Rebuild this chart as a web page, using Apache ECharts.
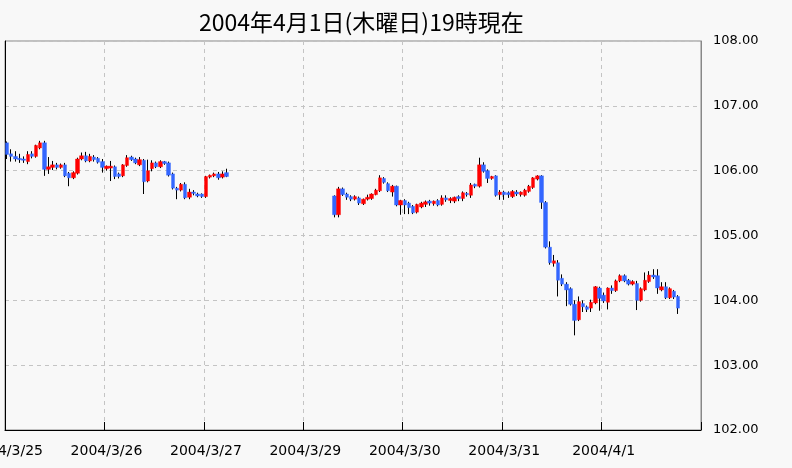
<!DOCTYPE html>
<html><head><meta charset="utf-8">
<script src="https://cdn.jsdelivr.net/npm/echarts@6/dist/echarts.min.js"></script>
<style>html,body{margin:0;padding:0;background:#f8f8f8}#c{width:792px;height:468px}</style>
</head><body><div id="c"></div>
<script>
const titleText = '2004年4月1日(木曜日)19時現在';
const dayLabels = ['2004/3/25','2004/3/26','2004/3/27','2004/3/29','2004/3/30','2004/3/31','2004/4/1'];
const hoursPerDay = 24;
const yMin = 102, yMax = 108, yStep = 1;

// hourly candles [open, close, low, high]
const seg1Start = 0;   // 2004/3/25 0時
const seg1 = [
[106.43,106.25,106.18,106.45],[106.26,106.22,106.14,106.33],[106.22,106.18,106.14,106.30],[106.19,106.17,106.12,106.26],
[106.18,106.16,106.12,106.22],[106.14,106.25,106.10,106.30],[106.26,106.22,106.19,106.30],[106.22,106.39,106.20,106.40],
[106.35,106.43,106.33,106.46],[106.43,106.02,105.92,106.46],[106.02,106.06,105.95,106.21],[106.05,106.09,106.01,106.15],
[106.09,106.05,106.02,106.12],[106.05,106.09,106.03,106.11],[106.09,105.92,105.90,106.12],[105.96,105.89,105.76,105.98],
[105.89,105.97,105.87,105.99],[105.96,106.18,105.94,106.20],[106.18,106.23,106.16,106.28],[106.23,106.15,106.13,106.29],
[106.15,106.22,106.13,106.26],[106.21,106.17,106.14,106.24],[106.19,106.13,106.11,106.21],[106.14,106.05,105.97,106.18],
[106.03,106.07,106.00,106.08],[106.04,106.07,105.84,106.15],[106.06,105.91,105.87,106.08],[105.95,105.91,105.88,105.97],
[105.92,106.09,105.90,106.10],[106.08,106.20,106.06,106.24],[106.21,106.17,106.15,106.23],[106.18,106.12,106.10,106.20],
[106.09,106.17,106.07,106.21],[106.16,105.83,105.64,106.18],[105.84,106.00,105.82,106.17],[106.03,106.12,105.99,106.16],
[106.12,106.06,106.04,106.14],[106.06,106.14,106.04,106.16],[106.14,106.11,106.09,106.15],[106.12,105.93,105.91,106.14],
[105.95,105.73,105.71,105.97],[105.73,105.70,105.56,105.75],[105.70,105.79,105.68,105.81],[105.79,105.58,105.56,105.82],
[105.59,105.67,105.56,105.72],[105.67,105.65,105.62,105.70],[105.64,105.61,105.59,105.66],[105.64,105.60,105.58,105.65],
[105.60,105.91,105.58,105.92],[105.90,105.93,105.88,105.94],[105.92,105.95,105.90,105.97],[105.95,105.89,105.86,105.98],
[105.90,105.95,105.88,105.99],[105.97,105.91,105.90,106.03]
];
const seg2Start = 79;  // 2004/3/29 7時
const seg2 = [
[105.61,105.32,105.28,105.62],[105.32,105.72,105.28,105.75],[105.72,105.63,105.61,105.74],[105.64,105.59,105.55,105.66],
[105.60,105.56,105.53,105.62],[105.56,105.60,105.54,105.62],[105.58,105.50,105.47,105.60],[105.49,105.56,105.47,105.57],
[105.56,105.59,105.54,105.63],[105.57,105.64,105.55,105.65],[105.63,105.70,105.62,105.72],[105.69,105.89,105.67,105.93],
[105.88,105.82,105.80,105.90],[105.80,105.69,105.67,105.82],[105.67,105.76,105.60,105.78],[105.76,105.47,105.45,105.77],
[105.47,105.54,105.32,105.55],[105.54,105.47,105.33,105.56],[105.50,105.43,105.33,105.52],[105.45,105.35,105.33,105.47],
[105.36,105.48,105.34,105.49],[105.44,105.50,105.42,105.52],[105.48,105.52,105.44,105.54],[105.53,105.50,105.46,105.55],
[105.49,105.53,105.46,105.54],[105.54,105.47,105.45,105.56],[105.48,105.58,105.46,105.62],[105.58,105.55,105.52,105.62],
[105.54,105.57,105.50,105.59],[105.53,105.59,105.50,105.60],[105.60,105.57,105.53,105.62],[105.57,105.66,105.53,105.68],
[105.65,105.63,105.60,105.67],[105.62,105.78,105.58,105.81],[105.79,105.76,105.73,105.80],[105.76,106.09,105.74,106.20],
[106.09,105.99,105.97,106.13],[106.00,105.88,105.81,106.02],[105.88,105.91,105.86,105.92],[105.92,105.62,105.60,105.93],
[105.63,105.67,105.55,105.70],[105.67,105.63,105.55,105.69],[105.66,105.63,105.58,105.68],[105.60,105.68,105.58,105.70],
[105.67,105.64,105.61,105.70],[105.63,105.67,105.60,105.68],[105.62,105.70,105.60,105.72],[105.68,105.76,105.66,105.78],
[105.74,105.89,105.72,105.90],[105.87,105.92,105.85,105.93],[105.92,105.51,105.41,105.93],[105.51,104.82,104.80,105.53],
[104.82,104.58,104.55,104.91],[104.57,104.61,104.52,104.70],[104.58,104.31,104.06,104.62],[104.34,104.25,104.22,104.40],
[104.25,104.16,103.91,104.28],[104.18,103.94,103.92,104.20],[103.94,103.69,103.46,104.00],[103.70,103.98,103.68,104.06],
[103.95,103.90,103.82,104.00],[103.90,103.86,103.82,103.92],[103.88,103.97,103.82,104.01],[103.96,104.21,103.94,104.22],
[104.19,104.03,103.84,104.21],[104.08,103.99,103.96,104.12],[103.97,104.19,103.86,104.20],[104.19,104.15,104.10,104.23],
[104.15,104.30,104.13,104.32],[104.30,104.38,104.28,104.40],[104.38,104.30,104.28,104.40],[104.31,104.25,104.23,104.33],
[104.25,104.29,104.23,104.31],[104.26,104.00,103.85,104.30],[104.00,104.18,103.98,104.20],[104.16,104.31,104.14,104.43],
[104.29,104.39,104.27,104.45],[104.39,104.36,104.33,104.48],[104.38,104.19,104.10,104.48],[104.16,104.21,104.14,104.28],
[104.21,104.04,104.02,104.28],[104.04,104.18,104.02,104.20],[104.14,104.05,104.02,104.16],[104.06,103.88,103.79,104.08]
];

const categories = [];
dayLabels.forEach(d => { for (let h = 0; h < hoursPerDay; h++) categories.push(d + ' ' + h + '時'); });
const full = categories.map(() => '-');
seg1.forEach((v, i) => { full[seg1Start + i] = v; });
seg2.forEach((v, i) => { full[seg2Start + i] = v; });
const wickData = full.map(v => v === '-' ? '-' : [v[0], v[1], v[2], v[3]]);
const bodyData = full.map(v => v === '-' ? '-' : [v[0], v[1], Math.min(v[0], v[1]), Math.max(v[0], v[1])]);

const isDay = (i) => i % hoursPerDay === 0;
const chart = echarts.init(document.getElementById('c'), null, {renderer: 'canvas'});
chart.setOption({
  animation: false,
  backgroundColor: '#f8f8f8',
  title: {
    text: titleText, left: 194, top: 6,
    textStyle: {fontFamily: 'Noto Sans CJK JP', fontSize: 23, fontWeight: 'normal', color: '#000'}
  },
  grid: {left: 5, right: 91, top: 41, bottom: 38, containLabel: false, outerBoundsMode: 'none',
    show: true, borderColor: '#888', borderWidth: 1, backgroundColor: 'transparent'},
  xAxis: {
    type: 'category', data: categories, boundaryGap: true,
    axisLine: {show: true, lineStyle: {color: '#000', width: 1}},
    axisTick: {show: true, inside: true, length: 8, interval: isDay, lineStyle: {color: '#000'}},
    axisLabel: {interval: isDay, formatter: v => v.split(' ')[0], fontFamily: 'DejaVu Sans', fontSize: 14, color: '#000', margin: 14, showMinLabel: true, hideOverlap: false},
    splitLine: {show: true, interval: isDay, lineStyle: {color: '#c4c4c4', type: [4, 4], width: 1}}
  },
  yAxis: [{
    type: 'value', position: 'right', min: yMin, max: yMax, interval: yStep,
    axisLine: {show: true, lineStyle: {color: '#888'}},
    axisTick: {show: false},
    axisLabel: {formatter: v => v.toFixed(2), fontFamily: 'DejaVu Sans', fontSize: 13, color: '#000', margin: 12},
    splitLine: {show: true, lineStyle: {color: '#c4c4c4', type: [4, 4], width: 1}}
  }, {
    type: 'value', position: 'left', min: yMin, max: yMax, interval: yStep,
    axisLine: {show: true, lineStyle: {color: '#000'}},
    axisTick: {show: false}, axisLabel: {show: false}, splitLine: {show: false}
  }],
  series: [{
    type: 'candlestick', data: wickData, barWidth: 1, z: 1,
    itemStyle: {color: '#000', color0: '#000', borderColor: '#000', borderColor0: '#000', borderWidth: 1}
  }, {
    type: 'candlestick', data: bodyData, barWidth: 4, barMaxWidth: 4, z: 5,
    itemStyle: {color: '#ff0000', color0: '#3366ff', borderColor: '#ff0000', borderColor0: '#3366ff', borderWidth: 0.4}
  }]
});
</script></body></html>
